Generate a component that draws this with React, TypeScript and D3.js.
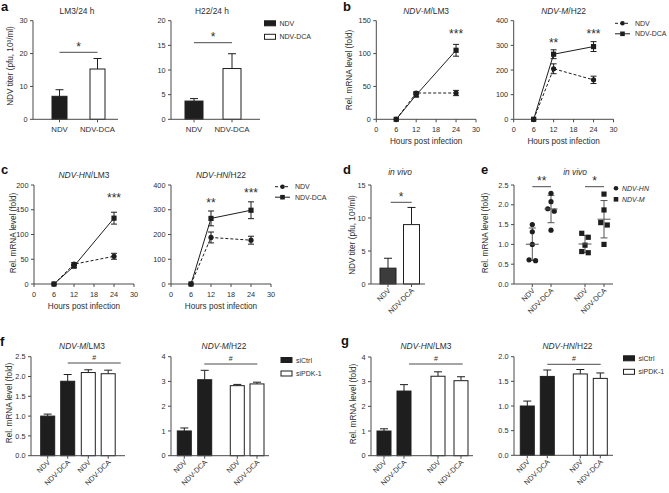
import React from "react";
import * as d3 from "d3";

const FONT = "'Liberation Sans', Arial, Helvetica, sans-serif";
const INK = "#2e2e2e";
const AXC = "#4a4a4a";
const DARK = "#1e1e1e";

// ---------- a: titer in vitro ----------
const titerCats = ["NDV", "NDV-DCA"];
const titerLM3 = [7.0, 15.3];
const titerLM3Err = [2.0, 3.2];
const titerH22 = [3.7, 10.3];
const titerH22Err = [0.5, 3.0];
const titerLM3Ticks = [0, 10, 20, 30];
const titerH22Ticks = [0, 5, 10, 15, 20];

// ---------- b, c: time courses ----------
const hours = [6, 12, 24];
const hourTicks = [0, 6, 12, 18, 24, 30];
const mLM3Ndv = [0, 40, 40];
const mLM3NdvErr = [0, 2, 4];
const mLM3Dca = [0, 37, 105];
const mLM3DcaErr = [0, 3, 9];
const mH22Ndv = [0, 205, 160];
const mH22NdvErr = [0, 20, 15];
const mH22Dca = [0, 264, 295];
const mH22DcaErr = [0, 18, 20];
const hnLM3Ndv = [0, 40, 56];
const hnLM3NdvErr = [0, 3, 6];
const hnLM3Dca = [0, 36, 133];
const hnLM3DcaErr = [0, 3, 12];
const hnH22Ndv = [0, 188, 177];
const hnH22NdvErr = [0, 22, 16];
const hnH22Dca = [0, 265, 298];
const hnH22DcaErr = [0, 30, 34];
const mLM3Ticks = [0, 50, 100, 150];
const hnLM3Ticks = [0, 50, 100, 150, 200];
const h22Ticks = [0, 100, 200, 300, 400];
const mLM3Stars = [{ h: 24, v: 133, s: "***" }];
const mH22Stars = [{ h: 12, v: 318, s: "**" }, { h: 24, v: 355, s: "***" }];
const hnLM3Stars = [{ h: 24, v: 178, s: "***" }];
const hnH22Stars = [{ h: 12, v: 336, s: "**" }, { h: 24, v: 376, s: "***" }];

// ---------- d: titer in vivo ----------
const vivoTiter = [2.4, 9.0];
const vivoTiterErr = [1.5, 2.6];
const vivoTicks = [0, 5, 10, 15];

// ---------- e: in vivo mRNA ----------
const hnNdvPts = [1.5, 1.32, 1.0, 0.61, 0.59];
const hnDcaPts = [2.29, 2.08, 1.9, 1.84, 1.36];
const mNdvPts = [1.28, 1.18, 0.98, 0.82, 0.79];
const mDcaPts = [2.27, 1.87, 1.55, 1.49, 1.0];
const foldTicks = [0, 0.5, 1, 1.5, 2, 2.5];

// ---------- f, g: siRNA ----------
const siCats = ["NDV", "NDV-DCA", "NDV", "NDV-DCA"];
const siGroups = ["siCtrl", "siCtrl", "siPDK-1", "siPDK-1"];
const fLM3 = [1.0, 1.88, 2.1, 2.07];
const fLM3Err = [0.05, 0.17, 0.07, 0.09];
const fH22 = [1.0, 3.07, 2.83, 2.9];
const fH22Err = [0.12, 0.38, 0.05, 0.07];
const gLM3 = [1.0, 2.62, 3.22, 3.04];
const gLM3Err = [0.09, 0.26, 0.18, 0.16];
const gH22 = [1.0, 1.6, 1.65, 1.56];
const gH22Err = [0.1, 0.13, 0.09, 0.11];
const fold25Ticks = [0, 0.5, 1, 1.5, 2, 2.5];
const fold4Ticks = [0, 1, 2, 3, 4];
const fold2Ticks = [0, 0.5, 1, 1.5, 2];

const f1 = d3.format(".1f");

function YAxis({ y, x, ticks, fmt }: any) {
  const [r0, r1] = y.range();
  return (
    <g>
      <line x1={x} x2={x} y1={r0} y2={r1} stroke={AXC} />
      {ticks.map((t: number) => (
        <g key={t}>
          <line x1={x - 3} x2={x} y1={y(t)} y2={y(t)} stroke={AXC} />
          <text x={x - 5.5} y={y(t) + 2.6} textAnchor="end" fontSize={7.3} fill={INK}>
            {fmt ? fmt(t) : t}
          </text>
        </g>
      ))}
    </g>
  );
}

function YLabel({ x, cy, children }: any) {
  return (
    <text transform={`translate(${x},${cy}) rotate(-90)`} textAnchor="middle" fontSize={8.2} fill={INK}>
      {children}
    </text>
  );
}

function CatAxis({ x0, x1, y0, pos, labels, rotate }: any) {
  return (
    <g>
      <line x1={x0} x2={x1} y1={y0} y2={y0} stroke={AXC} />
      {pos.map((p: number, i: number) => (
        <g key={i}>
          <line x1={p} x2={p} y1={y0} y2={y0 + 3} stroke={AXC} />
          {rotate ? (
            <text transform={`translate(${p + 3},${y0 + 7}) rotate(-45)`} textAnchor="end" fontSize={7.3} fill={INK}>
              {labels[i]}
            </text>
          ) : (
            <text x={p} y={y0 + 13} textAnchor="middle" fontSize={7.8} fill={INK}>
              {labels[i]}
            </text>
          )}
        </g>
      ))}
    </g>
  );
}

function Bars({ pos, w, vals, errs, fills, y }: any) {
  const base = y(0);
  return (
    <g>
      {vals.map((v: number, i: number) => {
        const top = y(v + errs[i]);
        return (
          <g key={i}>
            <line x1={pos[i]} x2={pos[i]} y1={y(v)} y2={top} stroke={DARK} />
            <line x1={pos[i] - 4} x2={pos[i] + 4} y1={top} y2={top} stroke={DARK} />
            <rect x={pos[i] - w / 2} y={y(v)} width={w} height={base - y(v)} fill={fills[i]} stroke={DARK} strokeWidth={1} />
          </g>
        );
      })}
    </g>
  );
}

function Sig({ xa, xb, yl, text, size }: any) {
  const fs = size || 12;
  const dy = text === "#" ? -3 : -1.5;
  return (
    <g>
      <line x1={xa} x2={xb} y1={yl} y2={yl} stroke={AXC} />
      <text x={(xa + xb) / 2} y={yl + dy} textAnchor="middle" fontSize={text === "#" ? 7 : fs} fill={INK}>
        {text}
      </text>
    </g>
  );
}

function Marker({ type, x, y, r }: any) {
  const rr = r || 2.6;
  return type === "sq" ? (
    <rect x={x - rr} y={y - rr} width={rr * 2} height={rr * 2} fill={DARK} />
  ) : (
    <circle cx={x} cy={y} r={rr} fill={DARK} />
  );
}

function LinePanel({ xr, yr, ydom, yticks, ndv, ndvErr, dca, dcaErr, stars, title, xlab }: any) {
  const x = d3.scaleLinear().domain([0, 30]).range(xr);
  const y = d3.scaleLinear().domain([0, ydom]).range(yr);
  const line = d3
    .line<number>()
    .x((_, i) => x(hours[i]))
    .y((d) => y(d));
  const series = [
    { v: ndv, e: ndvErr, m: "ci", dash: "3,2" },
    { v: dca, e: dcaErr, m: "sq", dash: null },
  ];
  return (
    <g>
      <YAxis y={y} x={xr[0]} ticks={yticks} />
      <line x1={xr[0]} x2={xr[1]} y1={yr[0]} y2={yr[0]} stroke={AXC} />
      {hourTicks.map((t) => (
        <g key={t}>
          <line x1={x(t)} x2={x(t)} y1={yr[0]} y2={yr[0] + 3} stroke={AXC} />
          <text x={x(t)} y={yr[0] + 12.5} textAnchor="middle" fontSize={7.3} fill={INK}>
            {t}
          </text>
        </g>
      ))}
      {series.map((s, k) => (
        <g key={k}>
          <path d={line(s.v) || ""} fill="none" stroke={DARK} strokeWidth={1} strokeDasharray={s.dash || undefined} />
          {s.v.map((v: number, i: number) =>
            s.e[i] > 0 ? (
              <g key={i}>
                <line x1={x(hours[i])} x2={x(hours[i])} y1={y(v - s.e[i])} y2={y(v + s.e[i])} stroke={DARK} />
                <line x1={x(hours[i]) - 3} x2={x(hours[i]) + 3} y1={y(v - s.e[i])} y2={y(v - s.e[i])} stroke={DARK} />
                <line x1={x(hours[i]) - 3} x2={x(hours[i]) + 3} y1={y(v + s.e[i])} y2={y(v + s.e[i])} stroke={DARK} />
              </g>
            ) : null
          )}
          {s.v.map((v: number, i: number) => (
            <Marker key={"m" + i} type={s.m} x={x(hours[i])} y={y(v)} />
          ))}
        </g>
      ))}
      {stars.map((st: any, i: number) => (
        <text key={i} x={x(st.h)} y={y(st.v) + 6} textAnchor="middle" fontSize={12} fill={INK}>
          {st.s}
        </text>
      ))}
      <text x={(xr[0] + xr[1]) / 2} y={yr[1] - 7} textAnchor="middle" fontSize={8.4} fill={INK}>
        <tspan fontStyle="italic">{title[0]}</tspan>
        {title[1]}
      </text>
      <text x={(xr[0] + xr[1]) / 2} y={yr[0] + 24.5} textAnchor="middle" fontSize={8.2} fill={INK}>
        {xlab}
      </text>
    </g>
  );
}

function LineLegend({ x, y }: any) {
  const items = [
    { label: "NDV", m: "ci", dash: "3,2" },
    { label: "NDV-DCA", m: "sq", dash: null },
  ];
  return (
    <g>
      {items.map((it, i) => (
        <g key={i}>
          <line x1={x} x2={x + 15} y1={y + i * 10.5} y2={y + i * 10.5} stroke={DARK} strokeDasharray={it.dash || undefined} />
          <Marker type={it.m} x={x + 7.5} y={y + i * 10.5} r={2.3} />
          <text x={x + 20} y={y + i * 10.5 + 2.5} fontSize={7} fill={INK}>
            {it.label}
          </text>
        </g>
      ))}
    </g>
  );
}

function BoxLegend({ x, y, labels, fills }: any) {
  return (
    <g>
      {labels.map((l: string, i: number) => (
        <g key={i}>
          <rect x={x} y={y + i * 13.5 - 2.5} width={11} height={5} fill={fills[i]} stroke={DARK} />
          <text x={x + 15} y={y + i * 13.5 + 2.5} fontSize={7} fill={INK}>
            {l}
          </text>
        </g>
      ))}
    </g>
  );
}

function SiPanel({ axisX, axisEnd, pos, y, vals, errs, ticks, fmt, title, sigFrom, sigTo, sigY }: any) {
  const fills = siGroups.map((g) => (g === "siCtrl" ? DARK : "#ffffff"));
  const base = y(0);
  return (
    <g>
      <YAxis y={y} x={axisX} ticks={ticks} fmt={fmt} />
      <Bars pos={pos} w={14} vals={vals} errs={errs} fills={fills} y={y} />
      <CatAxis x0={axisX} x1={axisEnd} y0={base} pos={pos} labels={siCats} rotate />
      <Sig xa={sigFrom} xb={sigTo} yl={sigY} text="#" />
      <text x={(axisX + axisEnd) / 2 + 4} y={348.5} textAnchor="middle" fontSize={8.4} fill={INK}>
        <tspan fontStyle="italic">{title[0]}</tspan>
        {title[1]}
      </text>
    </g>
  );
}

function jitter(vals: number[], y: any) {
  const idx = vals.map((v, i) => i).sort((a, b) => vals[b] - vals[a]);
  const off = new Array(vals.length).fill(0);
  let i = 0;
  while (i < idx.length) {
    let j = i;
    while (j + 1 < idx.length && Math.abs(y(vals[idx[j + 1]]) - y(vals[idx[j]])) < 6) j++;
    const n = j - i + 1;
    for (let k = i; k <= j; k++) off[idx[k]] = (k - i - (n - 1) / 2) * 6.5;
    i = j + 1;
  }
  return off;
}

function DotGroup({ cx, vals, y, m }: any) {
  const mean = d3.mean(vals) as number;
  const sd = d3.deviation(vals) as number;
  const off = jitter(vals, y);
  return (
    <g>
      <line x1={cx} x2={cx} y1={y(mean - sd)} y2={y(mean + sd)} stroke="#555" />
      <line x1={cx - 3.5} x2={cx + 3.5} y1={y(mean - sd)} y2={y(mean - sd)} stroke="#555" />
      <line x1={cx - 3.5} x2={cx + 3.5} y1={y(mean + sd)} y2={y(mean + sd)} stroke="#555" />
      {vals.map((v: number, i: number) => (
        <Marker key={i} type={m} x={cx + off[i]} y={y(v)} r={2.6} />
      ))}
      <line x1={cx - 6.5} x2={cx + 6.5} y1={y(mean)} y2={y(mean)} stroke="#555" />
    </g>
  );
}

function PanelLetter({ x, y, t }: any) {
  return (
    <text x={x} y={y} fontSize={13} fontWeight="bold" fill="#111">
      {t}
    </text>
  );
}

export default function App() {
  // a
  const yA1 = d3.scaleLinear().domain([0, 30]).range([119.3, 20.7]);
  const yA2 = d3.scaleLinear().domain([0, 20]).range([119.3, 20.7]);
  const posA1 = d3.scaleOrdinal<string, number>().domain(titerCats).range([59.5, 97.5]);
  const posA2 = d3.scaleOrdinal<string, number>().domain(titerCats).range([194, 232]);
  const aFills = [DARK, "#ffffff"];
  // d
  const yD = d3.scaleLinear().domain([0, 15]).range([284, 185]);
  const posD = d3.scaleOrdinal<string, number>().domain(titerCats).range([388, 411.5]);
  // e
  const yE = d3.scaleLinear().domain([0, 2.5]).range([284, 185]);
  const eKeys = ["hn-ndv", "hn-dca", "m-ndv", "m-dca"];
  const posE = d3.scaleOrdinal<string, number>().domain(eKeys).range([532.3, 551, 585, 604]);
  // f, g
  const siKeys = siCats.map((c, i) => siGroups[i] + c);
  const posF1 = d3.scaleOrdinal<string, number>().domain(siKeys).range([47.7, 67.7, 88.3, 108.2]);
  const posF2 = d3.scaleOrdinal<string, number>().domain(siKeys).range([184.3, 204.7, 237.3, 257]);
  const posG1 = d3.scaleOrdinal<string, number>().domain(siKeys).range([384, 404, 438, 461]);
  const posG2 = d3.scaleOrdinal<string, number>().domain(siKeys).range([527.3, 547.3, 580.3, 600.3]);
  const yF1 = d3.scaleLinear().domain([0, 2.5]).range([455.7, 356.7]);
  const yF2 = d3.scaleLinear().domain([0, 4]).range([455.7, 356.7]);
  const yG1 = d3.scaleLinear().domain([0, 4]).range([455.7, 357]);
  const yG2 = d3.scaleLinear().domain([0, 2]).range([455.3, 356.7]);

  const pA1 = titerCats.map((c) => posA1(c));
  const pA2 = titerCats.map((c) => posA2(c));
  const pD = titerCats.map((c) => posD(c));
  const pE = eKeys.map((k) => posE(k));
  const pF1 = siKeys.map((k) => posF1(k));
  const pF2 = siKeys.map((k) => posF2(k));
  const pG1 = siKeys.map((k) => posG1(k));
  const pG2 = siKeys.map((k) => posG2(k));

  return (
    <svg
      width={669}
      height={493}
      style={{ position: "absolute", left: 0, top: 0, background: "#fff" }}
      fontFamily={FONT}
    >
      <rect width={669} height={493} fill="#fff" />

      {/* ---------- a ---------- */}
      <PanelLetter x={1} y={10.5} t="a" />
      <text x={77} y={13.5} textAnchor="middle" fontSize={8.4} fill={INK}>LM3/24 h</text>
      <YAxis y={yA1} x={33} ticks={titerLM3Ticks} />
      <Bars pos={pA1} w={15} vals={titerLM3} errs={titerLM3Err} fills={aFills} y={yA1} />
      <CatAxis x0={33} x1={118} y0={119.3} pos={pA1} labels={titerCats} />
      <Sig xa={pA1[0]} xb={pA1[1]} yl={52.3} text="*" />
      <YLabel x={12.5} cy={66}>NDV titer (pfu, 10³/ml)</YLabel>

      <text x={212} y={13.5} textAnchor="middle" fontSize={8.4} fill={INK}>H22/24 h</text>
      <YAxis y={yA2} x={171} ticks={titerH22Ticks} />
      <Bars pos={pA2} w={18} vals={titerH22} errs={titerH22Err} fills={aFills} y={yA2} />
      <CatAxis x0={171} x1={260} y0={119.3} pos={pA2} labels={titerCats} />
      <Sig xa={pA2[0]} xb={pA2[1]} yl={42.7} text="*" />
      <BoxLegend x={264.5} y={23.3} labels={titerCats} fills={aFills} />

      {/* ---------- b ---------- */}
      <PanelLetter x={343} y={11} t="b" />
      <LinePanel xr={[376.3, 476]} yr={[119.3, 20.7]} ydom={150} yticks={mLM3Ticks} ndv={mLM3Ndv} ndvErr={mLM3NdvErr} dca={mLM3Dca} dcaErr={mLM3DcaErr} stars={mLM3Stars} title={["NDV-M", "/LM3"]} xlab="Hours post infection" />
      <YLabel x={351.5} cy={70}>Rel. mRNA level (fold)</YLabel>
      <LinePanel xr={[513.7, 613.5]} yr={[119.3, 20.7]} ydom={400} yticks={h22Ticks} ndv={mH22Ndv} ndvErr={mH22NdvErr} dca={mH22Dca} dcaErr={mH22DcaErr} stars={mH22Stars} title={["NDV-M", "/H22"]} xlab="Hours post infection" />
      <LineLegend x={615} y={23.3} />

      {/* ---------- c ---------- */}
      <PanelLetter x={1} y={173.5} t="c" />
      <LinePanel xr={[34, 134]} yr={[284, 185]} ydom={200} yticks={hnLM3Ticks} ndv={hnLM3Ndv} ndvErr={hnLM3NdvErr} dca={hnLM3Dca} dcaErr={hnLM3DcaErr} stars={hnLM3Stars} title={["NDV-HN", "/LM3"]} xlab="Hours post infection" />
      <YLabel x={15.5} cy={233}>Rel. mRNA level (fold)</YLabel>
      <LinePanel xr={[171, 271]} yr={[284, 185]} ydom={400} yticks={h22Ticks} ndv={hnH22Ndv} ndvErr={hnH22NdvErr} dca={hnH22Dca} dcaErr={hnH22DcaErr} stars={hnH22Stars} title={["NDV-HN", "/H22"]} xlab="Hours post infection" />
      <LineLegend x={275} y={186.7} />

      {/* ---------- d ---------- */}
      <PanelLetter x={343} y={174} t="d" />
      <text x={400} y={175} textAnchor="middle" fontSize={8.4} fontStyle="italic" fill={INK}>in vivo</text>
      <YAxis y={yD} x={371} ticks={vivoTicks} />
      <Bars pos={pD} w={16} vals={vivoTiter} errs={vivoTiterErr} fills={["#3c3c3c", "#ffffff"]} y={yD} />
      <CatAxis x0={371} x1={425} y0={284} pos={pD} labels={titerCats} rotate />
      <Sig xa={390.7} xb={411.7} yl={202.3} text="*" />
      <YLabel x={355} cy={235}>NDV titer (pfu, 10³/ml)</YLabel>

      {/* ---------- e ---------- */}
      <PanelLetter x={481} y={174} t="e" />
      <text x={575} y={175} textAnchor="middle" fontSize={8.4} fontStyle="italic" fill={INK}>in vivo</text>
      <YAxis y={yE} x={514} ticks={foldTicks} fmt={f1} />
      <CatAxis x0={514} x1={613} y0={284} pos={pE} labels={["NDV", "NDV-DCA", "NDV", "NDV-DCA"]} rotate />
      <DotGroup cx={pE[0]} vals={hnNdvPts} y={yE} m="ci" />
      <DotGroup cx={pE[1]} vals={hnDcaPts} y={yE} m="ci" />
      <DotGroup cx={pE[2]} vals={mNdvPts} y={yE} m="sq" />
      <DotGroup cx={pE[3]} vals={mDcaPts} y={yE} m="sq" />
      <Sig xa={pE[0]} xb={pE[1]} yl={186.7} text="**" />
      <Sig xa={pE[2]} xb={pE[3]} yl={186.7} text="*" />
      <YLabel x={488} cy={233}>Rel. mRNA level (fold)</YLabel>
      <Marker type="ci" x={616} y={188.3} r={2.3} />
      <text x={622} y={190.8} fontSize={7} fontStyle="italic" fill={INK}>NDV-HN</text>
      <Marker type="sq" x={616} y={199.3} r={2.3} />
      <text x={622} y={201.8} fontSize={7} fontStyle="italic" fill={INK}>NDV-M</text>

      {/* ---------- f ---------- */}
      <PanelLetter x={0} y={345.5} t="f" />
      <SiPanel axisX={31} axisEnd={125} pos={pF1} y={yF1} vals={fLM3} errs={fLM3Err} ticks={fold25Ticks} fmt={f1} title={["NDV-M", "/LM3"]} sigFrom={67.7} sigTo={120.7} sigY={363} />
      <YLabel x={11.5} cy={403}>Rel. mRNA level (fold)</YLabel>
      <SiPanel axisX={171} axisEnd={269} pos={pF2} y={yF2} vals={fH22} errs={fH22Err} ticks={fold4Ticks} title={["NDV-M", "/H22"]} sigFrom={204.3} sigTo={257.3} sigY={364} />
      <BoxLegend x={281} y={360} labels={["siCtrl", "siPDK-1"]} fills={[DARK, "#ffffff"]} />

      {/* ---------- g ---------- */}
      <PanelLetter x={341} y={345} t="g" />
      <SiPanel axisX={371} axisEnd={473} pos={pG1} y={yG1} vals={gLM3} errs={gLM3Err} ticks={fold4Ticks} title={["NDV-HN", "/LM3"]} sigFrom={409} sigTo={462.7} sigY={364} />
      <YLabel x={356} cy={404}>Rel. mRNA level (fold)</YLabel>
      <SiPanel axisX={514} axisEnd={613} pos={pG2} y={yG2} vals={gH22} errs={gH22Err} ticks={fold2Ticks} fmt={f1} title={["NDV-HN", "/H22"]} sigFrom={547.3} sigTo={600.7} sigY={364.3} />
      <BoxLegend x={623.5} y={358.3} labels={["siCtrl", "siPDK-1"]} fills={[DARK, "#ffffff"]} />
    </svg>
  );
}
